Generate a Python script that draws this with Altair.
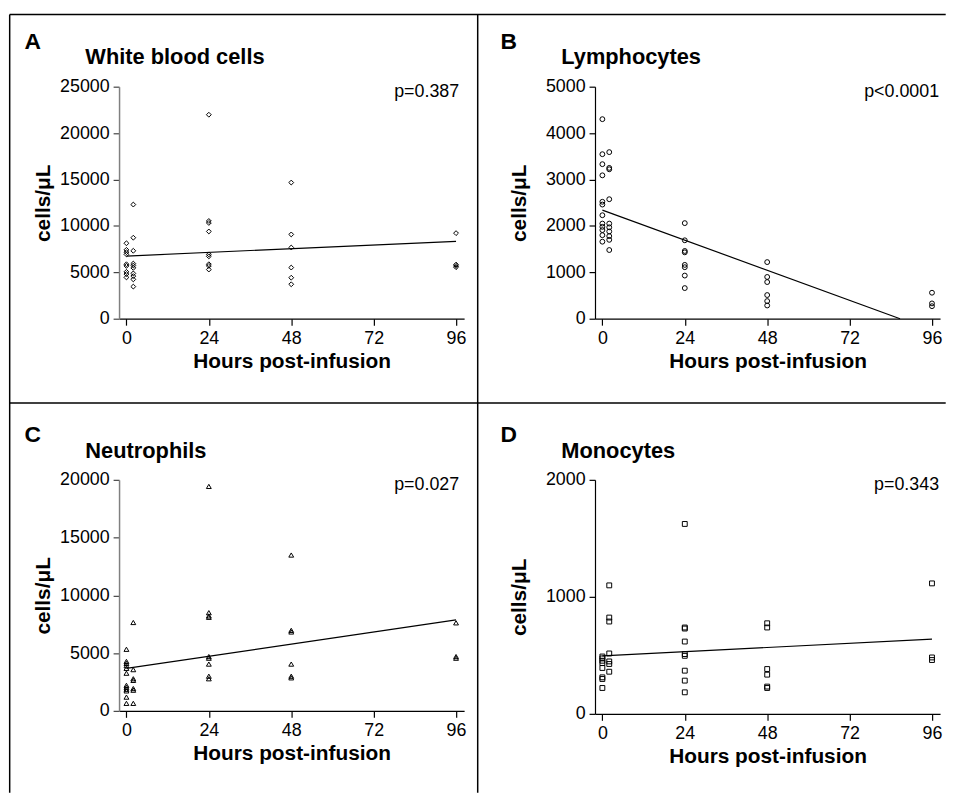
import altair as alt
import pandas as pd

hour_ticks = [0, 24, 48, 72, 96]

# ---- Panel A: White blood cells ----
wbc_hours = [0, 0, 0, 0, 0, 0, 0, 0, 0,
             2, 2, 2, 2, 2, 2, 2, 2, 2, 2,
             24, 24, 24, 24, 24, 24, 24, 24, 24,
             48, 48, 48, 48, 48, 48,
             96, 96, 96, 96]
wbc_values = [8130, 7420, 7170, 6930, 5870, 5690, 5050, 4810, 4450,
              12300, 8730, 7320, 5940, 5730, 5480, 4880, 4590, 4240, 3460,
              21980, 10530, 10320, 9400, 6930, 6720, 5870, 5690, 5300,
              14670, 9080, 7670, 5510, 4420, 3710,
              9220, 5830, 5690, 5550]
wbc_fit_h = [0, 96]
wbc_fit_v = [6750, 8340]

# ---- Panel B: Lymphocytes ----
lym_hours = [0, 0, 0, 0, 0, 0, 0, 0, 0, 0, 0, 0,
             2, 2, 2, 2, 2, 2, 2, 2, 2, 2,
             24, 24, 24, 24, 24, 24, 24, 24,
             48, 48, 48, 48, 48, 48,
             96, 96, 96]
lym_values = [4300, 3545, 3330, 3090, 2520, 2460, 2230, 2050, 1980, 1910, 1800, 1660,
              3590, 3250, 3220, 2575, 2050, 1970, 1880, 1780, 1700, 1480,
              2060, 1690, 1460, 1430, 1160, 1110, 930, 660,
              1220, 900, 790, 510, 380, 285,
              560, 330, 270]
lym_fit_h = [0, 86.7]
lym_fit_v = [2340, 0]

# ---- Panel C: Neutrophils ----
neu_hours = [0, 0, 0, 0, 0, 0, 0, 0, 0, 0, 0, 0,
             2, 2, 2, 2, 2, 2, 2,
             24, 24, 24, 24, 24, 24, 24, 24, 24,
             48, 48, 48, 48, 48, 48,
             96, 96, 96]
neu_values = [5330, 4280, 4110, 3910, 3680, 3260, 2210, 2040, 1870, 1730, 1190, 650,
              7650, 3570, 2780, 2640, 1930, 1790, 650,
              19430, 8500, 8220, 8100, 4700, 4560, 4050, 3000, 2780,
              13490, 6970, 6830, 4050, 3000, 2860,
              7620, 4700, 4560]
neu_fit_h = [0, 96]
neu_fit_v = [3680, 7880]

# ---- Panel D: Monocytes ----
mon_hours = [0, 0, 0, 0, 0, 0, 0, 0,
             2, 2, 2, 2, 2, 2, 2,
             24, 24, 24, 24, 24, 24, 24, 24, 24,
             48, 48, 48, 48, 48, 48,
             96, 96, 96]
mon_values = [490, 474, 454, 434, 392, 312, 298, 221,
              1098, 823, 789, 516, 448, 426, 360,
              1623, 738, 729, 618, 511, 496, 369, 284, 184,
              774, 738, 383, 335, 233, 221,
              1115, 482, 460]
mon_fit_h = [0, 96]
mon_fit_v = [496, 638]

FONT = "Liberation Sans"
W = 348
X_DOMAIN = [-2.15, 98.35]


def one():
    return alt.Data(values=[{"k": 1}])


def hline(x1, x2, y):
    return alt.Chart(one()).mark_rule(color="black", strokeWidth=1.5).encode(
        x=alt.value(x1), x2=alt.value(x2), y=alt.value(y))


def vline(x, y1, y2):
    return alt.Chart(one()).mark_rule(color="black", strokeWidth=1.5).encode(
        x=alt.value(x), y=alt.value(y1), y2=alt.value(y2))


def label(txt, x, y, size, bold, align):
    return alt.Chart(one()).mark_text(
        text=txt, font=FONT, fontSize=size, fontWeight="bold" if bold else "normal",
        align=align, baseline="middle", color="black").encode(
        x=alt.value(x), y=alt.value(y))


def panel(letter, name, hours, values, shape, fit_h, fit_v, ymax, ystep, ptext,
          height, gray, ptx, frame=None):
    df = pd.DataFrame({"h": hours, "v": values})
    fit = pd.DataFrame({"h": fit_h, "v": fit_v})
    xs = alt.Scale(domain=X_DOMAIN, nice=False, zero=False)
    ys = alt.Scale(domain=[0, ymax], nice=False)
    xaxis = alt.Axis(values=hour_ticks, title="Hours post-infusion", grid=False,
                     labelFontSize=18, labelPadding=4, tickSize=6.5, tickWidth=1.2,
                     domainWidth=1.2, titleFontSize=21, titleFontWeight="bold",
                     titlePadding=4, labelFont=FONT, titleFont=FONT,
                     domainColor="black", tickColor="black", labelColor="black",
                     titleColor="black")
    yaxis = alt.Axis(values=list(range(0, ymax + 1, ystep)), format="d",
                     title="cells/μL", grid=False, labelFontSize=18, labelPadding=4,
                     tickSize=6, tickWidth=1.2, domainWidth=1.5 if gray else 1.2,
                     titleFontSize=21, titleFontWeight="bold", titleX=-76,
                     titleY=height / 2, titleAngle=-90, titleAlign="center",
                     titleBaseline="middle", labelFont=FONT, titleFont=FONT,
                     domainColor="#808080" if gray else "black",
                     tickColor="#444444" if gray else "black",
                     labelColor="black", titleColor="black")
    pts = alt.Chart(df).mark_point(shape=shape, filled=False, color="black", size=24,
                                   strokeWidth=1, opacity=1).encode(
        x=alt.X("h:Q", scale=xs, axis=xaxis),
        y=alt.Y("v:Q", scale=ys, axis=yaxis))
    line = alt.Chart(fit).mark_line(color="black", strokeWidth=1.2).encode(
        x=alt.X("h:Q", scale=xs), y=alt.Y("v:Q", scale=ys))
    layers = []
    if frame:
        layers += frame
    layers += [
        label(letter, -87, -45, 23, True, "center"),
        label(name, -34, -29.5, 22, True, "left"),
        label(ptext, ptx, 5, 18, False, "right"),
        line, pts,
    ]
    return alt.layer(*layers).properties(width=W, height=height)


# frame lines of the whole figure, in panel A's pixel frame
frame = [
    hline(-110.3, 833.7, -72.8),
    hline(-110.3, 833.7, 319),
    vline(-110.3, -72.8, 712),
    vline(361.7, -72.8, 712),
]

A = panel("A", "White blood cells", wbc_hours, wbc_values, "diamond", wbc_fit_h,
          wbc_fit_v, 25000, 5000, "p=0.387", 234, True, 343, frame)
B = panel("B", "Lymphocytes", lym_hours, lym_values, "circle", lym_fit_h, lym_fit_v,
          5000, 1000, "p<0.0001", 234, False, 347)
C = panel("C", "Neutrophils", neu_hours, neu_values, "triangle-up", neu_fit_h,
          neu_fit_v, 20000, 5000, "p=0.027", 233, True, 343)
D = panel("D", "Monocytes", mon_hours, mon_values, "square", mon_fit_h, mon_fit_v,
          2000, 1000, "p=0.343", 236, False, 347)

chart = alt.concat(
    A, B, C, D, columns=2, bounds="flush",
    spacing={"row": 162.5, "column": 132}
).properties(
    padding={"left": 0, "top": 2, "right": 0, "bottom": 0}
).configure_view(stroke=None)

chart.save("out.html", embed_options={"renderer": "svg", "actions": False})
